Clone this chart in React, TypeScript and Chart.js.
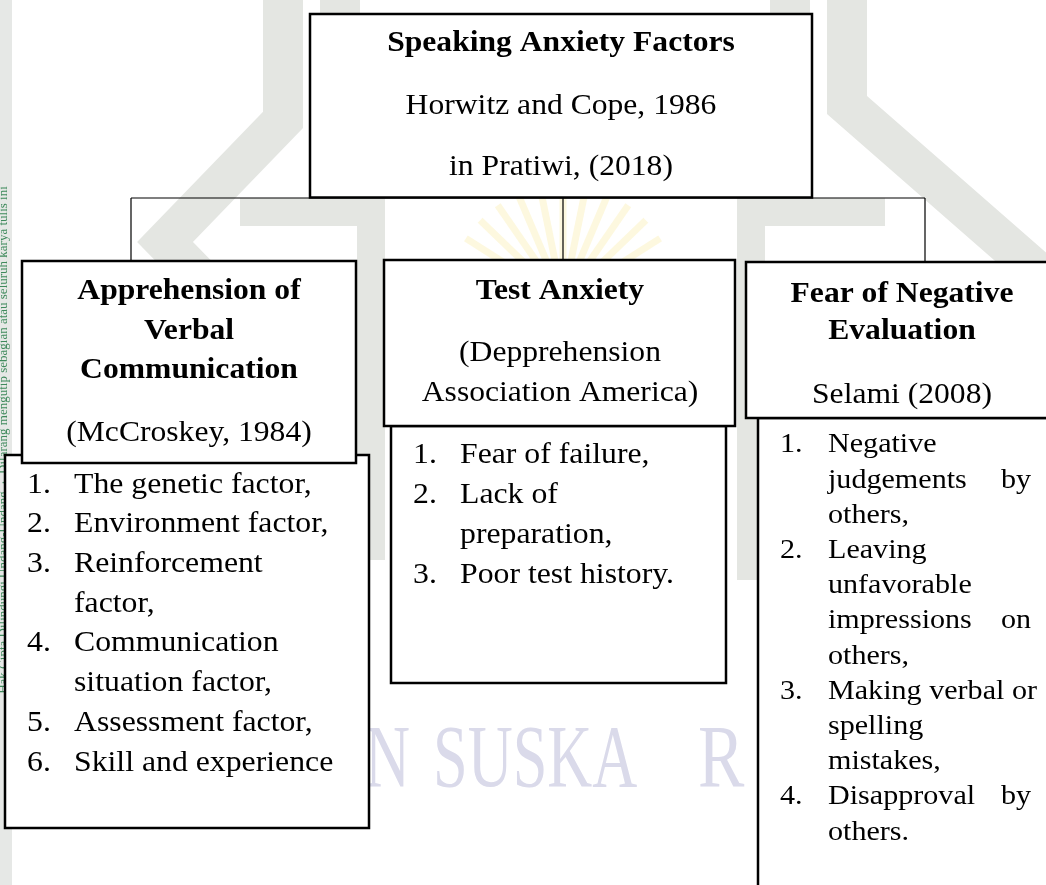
import React, { useEffect, useRef } from "react";
import { Chart, registerables } from "chart.js";

Chart.register(...registerables);

// ---------------- data ----------------
const rootLines = ["Speaking Anxiety Factors", "Horwitz and Cope, 1986", "in Pratiwi, (2018)"];

const factorTitles = [
  ["Apprehension of", "Verbal", "Communication"],
  ["Test Anxiety"],
  ["Fear of Negative", "Evaluation"],
];

const factorSources = [
  ["(McCroskey, 1984)"],
  ["(Depprehension", "Association America)"],
  ["Selami (2008)"],
];

const verbalItems = [
  ["The genetic factor,"],
  ["Environment factor,"],
  ["Reinforcement", "factor,"],
  ["Communication", "situation factor,"],
  ["Assessment factor,"],
  ["Skill and experience"],
];

const testItems = [
  ["Fear of failure,"],
  ["Lack of", "preparation,"],
  ["Poor test history."],
];

const evaluationItems = [
  ["Negative", "judgements by", "others,"],
  ["Leaving", "unfavorable", "impressions on", "others,"],
  ["Making verbal or", "spelling", "mistakes,"],
  ["Disapproval by", "others."],
];

const watermarkWords = ["UIN", "SUSKA", "R", "IAU"];

// ---------------- layout (positions in diagram units) ----------------
const W = 1046;
const H = 885;
const SERIF = '"Liberation Serif", "Times New Roman", serif';

const rootBox = { x0: 310, y0: 14, x1: 812, y1: 197.5, cx: 561, lineY: [44, 106.5, 167] };
const connector = { y: 198, xs: [131, 563, 925], yEnd: 261 };

const headerBoxes = [
  { x0: 22, y0: 261, x1: 356, y1: 463, cx: 189, titleY: [292, 332, 371], srcY: [433], sx: 1.09 },
  { x0: 384, y0: 260, x1: 735, y1: 426, cx: 560, titleY: [292], srcY: [353, 393], sx: 1.09 },
  { x0: 746, y0: 262, x1: 1052, y1: 418, cx: 902, titleY: [295, 332], srcY: [395], sx: 1.09 },
];

const listBoxes = [
  { x0: 5, y0: 455, x1: 369, y1: 828, numX: 27, textX: 74, startY: 485, step: 39.7, font: 29, sx: 1.095, justifyRight: 0 },
  { x0: 391, y0: 426, x1: 726, y1: 683, numX: 413, textX: 460, startY: 455, step: 40, font: 29, sx: 1.095, justifyRight: 0 },
  { x0: 758, y0: 418, x1: 1060, y1: 900, numX: 780, textX: 828, startY: 445, step: 35.2, font: 28, sx: 1.075, justifyRight: 1031 },
];

const listData = [verbalItems, testItems, evaluationItems];

export default function App() {
  const canvasRef = useRef<HTMLCanvasElement | null>(null);

  useEffect(() => {
    const canvas = canvasRef.current;
    if (!canvas) return;

    const diagramPlugin = {
      id: "diagram",
      beforeDatasetsDraw(chart: any) {
        const ctx: CanvasRenderingContext2D = chart.ctx;
        const xs = chart.scales.x;
        const ys = chart.scales.y;
        const X = (v: number) => xs.getPixelForValue(v);
        const Y = (v: number) => ys.getPixelForValue(v);

        const text = (t: string, x: number, y: number, size: number, bold: boolean, align: CanvasTextAlign, sx: number, color = "#000") => {
          ctx.save();
          ctx.font = `${bold ? "bold " : ""}${size}px ${SERIF}`;
          ctx.textBaseline = "middle";
          ctx.textAlign = align;
          ctx.fillStyle = color;
          ctx.translate(X(x), Y(y));
          ctx.scale(sx, 1);
          ctx.fillText(t, 0, 0);
          ctx.restore();
        };
        const measure = (t: string, size: number, sx: number) => {
          ctx.save();
          ctx.font = `${size}px ${SERIF}`;
          const w = ctx.measureText(t).width * sx;
          ctx.restore();
          return w;
        };
        const rect = (x0: number, y0: number, x1: number, y1: number, lw: number) => {
          ctx.save();
          ctx.fillStyle = "#fff";
          ctx.fillRect(X(x0), Y(y0), X(x1) - X(x0), Y(y1) - Y(y0));
          ctx.strokeStyle = "#000";
          ctx.lineWidth = lw;
          ctx.strokeRect(X(x0), Y(y0), X(x1) - X(x0), Y(y1) - Y(y0));
          ctx.restore();
        };
        const poly = (pts: number[][], lw: number, color: string) => {
          ctx.save();
          ctx.strokeStyle = color;
          ctx.lineWidth = lw;
          ctx.lineJoin = "miter";
          ctx.lineCap = "butt";
          ctx.beginPath();
          pts.forEach((p, i) => (i === 0 ? ctx.moveTo(X(p[0]), Y(p[1])) : ctx.lineTo(X(p[0]), Y(p[1]))));
          ctx.stroke();
          ctx.restore();
        };

        // background
        ctx.save();
        ctx.fillStyle = "#fff";
        ctx.fillRect(0, 0, chart.width, chart.height);
        ctx.restore();

        // ---- faint watermark ----
        const gray = "#e4e6e2";
        poly([[283, -30], [283, 120], [165, 242], [290, 370]], 40, gray);
        poly([[847, -30], [847, 105], [1070, 300]], 40, gray);
        poly([[340, -30], [340, 20]], 40, gray);
        poly([[790, -30], [790, 20]], 40, gray);
        poly([[240, 212], [371, 212], [371, 560]], 28, gray);
        poly([[885, 212], [751, 212], [751, 580]], 28, gray);
        // pale yellow centre emblem
        ctx.save();
        ctx.strokeStyle = "rgba(249, 232, 150, 0.3)";
        ctx.lineWidth = 7;
        for (let i = 0; i < 11; i++) {
          const a = Math.PI * (1.18 + i * 0.064);
          ctx.beginPath();
          ctx.moveTo(X(563 + Math.cos(a) * 30), Y(300 + Math.sin(a) * 30));
          ctx.lineTo(X(563 + Math.cos(a) * 115), Y(300 + Math.sin(a) * 115));
          ctx.stroke();
        }
        ctx.restore();
        // left strip
        ctx.save();
        ctx.fillStyle = "#e6e8e6";
        ctx.fillRect(X(0), Y(0), X(12) - X(0), Y(H) - Y(0));
        ctx.restore();
        ctx.save();
        ctx.translate(X(4), Y(440));
        ctx.rotate(-Math.PI / 2);
        ctx.font = `13px ${SERIF}`;
        ctx.fillStyle = "#3f8a5c";
        ctx.textAlign = "center";
        ctx.textBaseline = "middle";
        ctx.fillText("Hak Cipta Dilindungi Undang-Undang  ·  Dilarang mengutip sebagian atau seluruh karya tulis ini", 0, 0);
        ctx.restore();
        // watermark words (partly hidden behind the boxes)
        {
          const size = 89, sx = 0.7, color = "#dadaea";
          const wUIN = measure(watermarkWords[0], size, sx);
          const sStart = 433;
          const baseY = 763;
          text(watermarkWords[0], sStart - 23 - wUIN, baseY, size, false, "left", sx, color);
          text(watermarkWords[1], sStart, baseY, size, false, "left", sx, color);
          text(watermarkWords[2], 698, baseY, size, false, "left", 0.78, color);
          text(watermarkWords[3], 762, baseY, size, false, "left", sx, color);
        }

        // ---- connectors ----
        ctx.save();
        ctx.strokeStyle = "#000";
        ctx.lineWidth = 1.2;
        ctx.beginPath();
        ctx.moveTo(X(connector.xs[0]), Y(connector.y));
        ctx.lineTo(X(connector.xs[2]), Y(connector.y));
        connector.xs.forEach((cx) => {
          ctx.moveTo(X(cx), Y(connector.y));
          ctx.lineTo(X(cx), Y(connector.yEnd));
        });
        ctx.stroke();
        ctx.restore();

        // ---- root box ----
        rect(rootBox.x0, rootBox.y0, rootBox.x1, rootBox.y1, 2.5);
        rootLines.forEach((t, i) => text(t, rootBox.cx, rootBox.lineY[i], 29, i === 0, "center", 1.09));

        // ---- list boxes ----
        listBoxes.forEach((b, bi) => {
          rect(b.x0, b.y0, b.x1, b.y1, 2.5);
          let row = 0;
          listData[bi].forEach((item, ii) => {
            item.forEach((line, li) => {
              const yy = b.startY + row * b.step;
              if (li === 0) text(`${ii + 1}.`, b.numX, yy, b.font, false, "left", b.sx);
              const words = line.split(" ");
              const isLast = li === item.length - 1;
              const natural = measure(line, b.font, b.sx);
              if (b.justifyRight && !isLast && words.length > 1 && b.textX + natural < b.justifyRight) {
                const widths = words.map((w) => measure(w, b.font, b.sx));
                const total = widths.reduce((s, v) => s + v, 0);
                const gap = (b.justifyRight - b.textX - total) / (words.length - 1);
                let xx = b.textX;
                words.forEach((w, wi) => {
                  text(w, xx, yy, b.font, false, "left", b.sx);
                  xx += widths[wi] + gap;
                });
              } else {
                text(line, b.textX, yy, b.font, false, "left", b.sx);
              }
              row++;
            });
          });
        });

        // ---- header boxes ----
        headerBoxes.forEach((b, bi) => {
          rect(b.x0, b.y0, b.x1, b.y1, 2.5);
          factorTitles[bi].forEach((t, i) => text(t, b.cx, b.titleY[i], 29, true, "center", b.sx));
          factorSources[bi].forEach((t, i) => text(t, b.cx, b.srcY[i], 29, false, "center", b.sx));
        });
      },
    };

    const chart = new Chart(canvas, {
      type: "scatter",
      data: { datasets: [{ data: [], showLine: false, pointRadius: 0 }] },
      options: {
        responsive: false,
        animation: false,
        events: [],
        layout: { padding: 0 },
        plugins: { legend: { display: false }, tooltip: { enabled: false }, title: { display: false } },
        scales: {
          x: { type: "linear", min: 0, max: W, display: false },
          y: { type: "linear", min: 0, max: H, reverse: true, display: false },
        },
      },
      plugins: [diagramPlugin],
    });

    return () => chart.destroy();
  }, []);

  return (
    <div style={{ position: "fixed", left: 0, top: 0, width: W, height: H, background: "#fff" }}>
      <canvas ref={canvasRef} width={W} height={H} style={{ width: W, height: H, display: "block" }} />
    </div>
  );
}
